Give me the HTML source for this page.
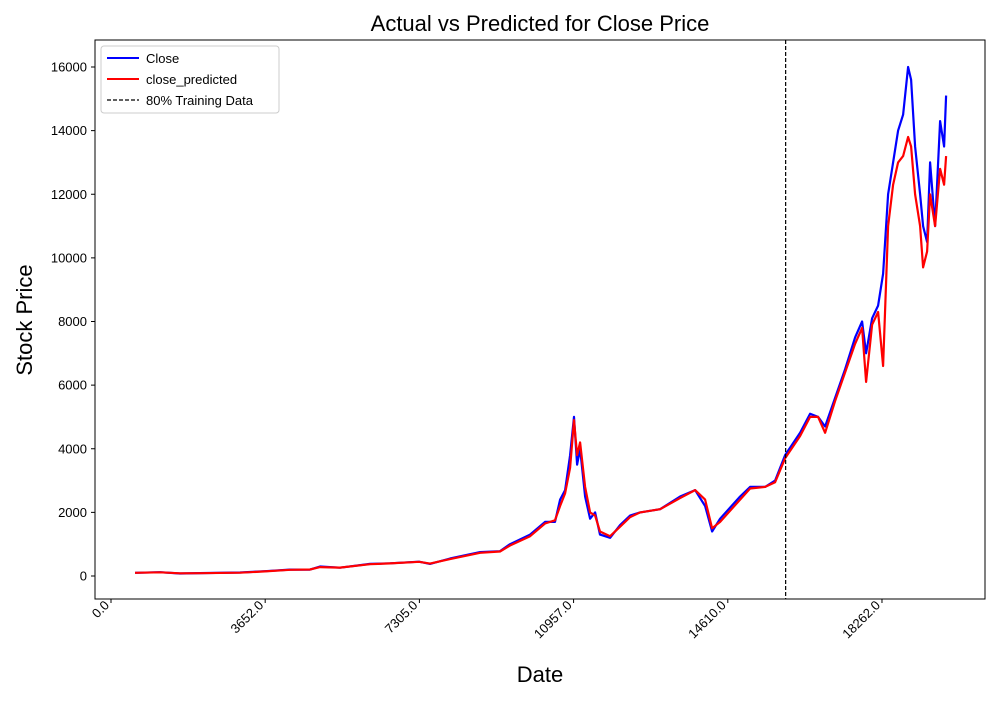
<!DOCTYPE html>
<html><head><meta charset="utf-8"><style>
body{margin:0;background:#fff;font-family:"Liberation Sans",sans-serif}
svg text{font-family:"Liberation Sans",sans-serif}
</style></head><body>
<svg id="c" width="1000" height="700">
<rect width="1000" height="700" fill="#fff"/>
<text x="540" y="31" font-size="22" text-anchor="middle">Actual vs Predicted for Close Price</text>
<text x="540" y="682" font-size="22" text-anchor="middle">Date</text>
<text transform="translate(32,320) rotate(-90)" font-size="22" text-anchor="middle">Stock Price</text>
<g id="xt"></g>
<g id="yt"></g>
<g id="series"></g>
<rect x="95" y="40" width="890" height="559" fill="none" stroke="#000" stroke-width="1"/>
<g>
<rect x="101" y="46" width="178" height="67" rx="3" fill="#fff" fill-opacity="0.85" stroke="#ccc"/>
<line x1="107" y1="58" x2="139" y2="58" stroke="#00f" stroke-width="2"/>
<text x="146" y="63" font-size="13">Close</text>
<line x1="107" y1="79" x2="139" y2="79" stroke="#f00" stroke-width="2"/>
<text x="146" y="84" font-size="13">close_predicted</text>
<line x1="107" y1="100" x2="139" y2="100" stroke="#000" stroke-width="1.2" stroke-dasharray="4,2"/>
<text x="146" y="105" font-size="13">80% Training Data</text>
</g>
</svg>
<script>
const dates=[569,1161,1635,2108,3056,3648,4241,4714,4951,5425,6136,6610,7297,7557,8031,8742,9215,9452,9926,10281,10518,10637,10755,10874,10968,11040,11111,11229,11348,11466,11584,11821,12058,12295,12532,13006,13480,13835,14072,14238,14427,14901,15138,15494,15731,15968,16323,16560,16750,16915,17152,17389,17626,17792,17886,18028,18170,18289,18407,18526,18644,18762,18881,18952,19047,19165,19236,19331,19402,19521,19639,19733,19781];
const closeVals=[100,120,80,90,110,150,200,200,300,260,380,400,450,380,550,750,780,1000,1300,1700,1700,2400,2700,3800,5000,3500,4000,2500,1800,2000,1300,1200,1600,1900,2000,2100,2500,2700,2200,1400,1800,2500,2800,2800,3000,3800,4500,5100,5000,4700,5600,6500,7500,8000,7000,8100,8500,9500,12000,13000,14000,14500,16000,15600,13500,12000,11000,10500,13000,11000,14300,13500,15100];
const predVals=[100,115,85,88,105,145,195,205,280,265,370,395,445,390,530,730,770,960,1250,1650,1750,2200,2600,3400,4900,3800,4200,2800,2000,1900,1400,1250,1550,1850,2000,2100,2450,2700,2400,1500,1700,2400,2750,2800,2950,3700,4400,5000,5000,4500,5500,6400,7300,7800,6100,7900,8300,6600,11000,12300,13000,13200,13800,13500,12000,11000,9700,10200,12000,11000,12800,12300,13200];
const yTicks=[0,2000,4000,6000,8000,10000,12000,14000,16000];
const xTicks=[0,3652,7305,10957,14610,18262];
const xTickLabels=["0.0","3652.0","7305.0","10957.0","14610.0","18262.0"];
const splitDate=15980;
const NS="http://www.w3.org/2000/svg";
const xs=d=>111+(d)*(154.2/3652.5);
const ys=v=>576-v*(509/16000);
function mk(t,a,p){const e=document.createElementNS(NS,t);for(const k in a)e.setAttribute(k,a[k]);p.appendChild(e);return e;}
const yt=document.getElementById('yt'),xt=document.getElementById('xt'),sg=document.getElementById('series');
yTicks.forEach(v=>{const y=ys(v);
const l=mk('line',{x1:91,x2:95,y1:y,y2:y,stroke:'#000'},yt);


const t=mk('text',{x:87,y:y+4.5,'font-size':13,'text-anchor':'end'},yt);t.textContent=v;

});
xTicks.forEach((v,i)=>{const x=xs(v);
const l=mk('line',{x1:x,x2:x,y1:599,y2:603,stroke:'#000'},xt);


const t=mk('text',{transform:`translate(${x-1},${606}) rotate(-45)`,'font-size':13,'text-anchor':'end'},xt);t.textContent=xTickLabels[i];

});
function path(vals,col,name){const d=vals.map((v,i)=>(i?'L':'M')+xs(dates[i]).toFixed(1)+','+ys(v).toFixed(1)).join('');
const p=mk('path',{d:d,fill:'none',stroke:col,'stroke-width':2.2,'stroke-linejoin':'round'},sg);

}
path(closeVals,'#00f','close-line');
path(predVals,'#f00','close-predicted-line');
const sl=mk('line',{x1:xs(splitDate),x2:xs(splitDate),y1:40,y2:599,stroke:'#000','stroke-width':1.2,'stroke-dasharray':'4,2'},sg);


</script>
</body></html>
